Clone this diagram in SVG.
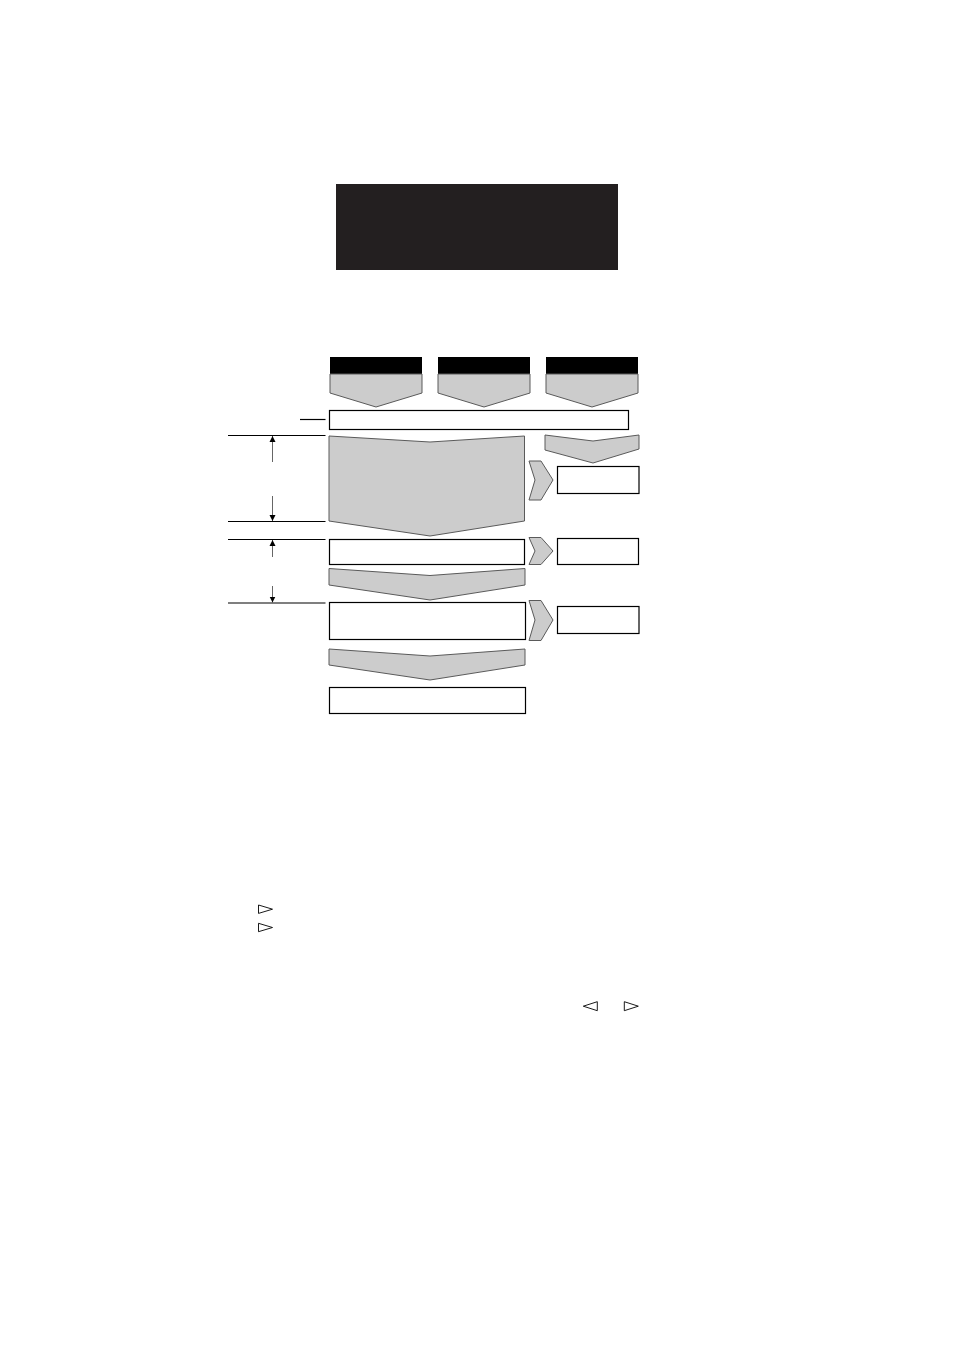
<svg xmlns="http://www.w3.org/2000/svg" width="954" height="1350" viewBox="0 0 954 1350">
<defs>
<style>
.g{fill:#cccccc;stroke:#5a5a5a;stroke-width:1;stroke-linejoin:miter}
.b{fill:#ffffff;stroke:#000000;stroke-width:1.2}
.h{fill:#000000}
.l{stroke:#000000;stroke-width:1.2;fill:none}
.a{stroke:#555555;stroke-width:0.9;fill:none}
.t{fill:#ffffff;stroke:#000000;stroke-width:0.9}
</style>
<marker id="ah" markerWidth="6" markerHeight="8" refX="6" refY="4" orient="auto" markerUnits="userSpaceOnUse">
<path d="M0,1 L6,4 L0,7 Z" fill="#000000"/>
</marker>
</defs>
<rect width="954" height="1350" fill="#ffffff"/>
<g id="title"><rect x="336" y="184" width="282" height="86" fill="#231f20"/></g>
<g id="head1"><rect class="h" x="330" y="357" width="92" height="17"/><path class="g" d="M330,374 L422,374 L422,393 L376,407 L330,393 Z"/></g>
<g id="head2"><rect class="h" x="438" y="357" width="92" height="17"/><path class="g" d="M438,374 L530,374 L530,393 L484,407 L438,393 Z"/></g>
<g id="head3"><rect class="h" x="546" y="357" width="92" height="17"/><path class="g" d="M546,374 L638,374 L638,393 L592,407 L546,393 Z"/></g>
<g id="bar"><rect class="b" x="329.5" y="410.5" width="299" height="19"/></g>
<g id="bigflow"><path class="g" d="M329,436 L430,442 L524.5,436 L524.5,521 L430,536 L329,521 Z"/></g>
<g id="rightflow"><path class="g" d="M545,435 L593,441 L639,435 L639,449 L593,463 L545,450 Z"/></g>
<g id="side1"><path class="g" d="M529,461 L541,461 L553,480 L541,500 L529,500 L535,480 Z"/></g>
<g id="rbox1"><rect class="b" x="557.5" y="466.5" width="81.5" height="27"/></g>
<g id="box2"><rect class="b" x="329.5" y="539.5" width="195" height="25"/></g>
<g id="side2"><path class="g" d="M529,537.5 L541,537.5 L553,551 L541,564.5 L529,564.5 L535,551 Z"/></g>
<g id="rbox2"><rect class="b" x="557.5" y="538.5" width="81" height="26"/></g>
<g id="flow3"><path class="g" d="M329,568.5 L430,575.5 L525,568.5 L525,585 L430,600 L329,585 Z"/></g>
<g id="box3"><rect class="b" x="329.5" y="602.5" width="196" height="37"/></g>
<g id="side3"><path class="g" d="M529,600.5 L541,600.5 L553,620 L541,640.5 L529,640.5 L535,620 Z"/></g>
<g id="rbox3"><rect class="b" x="557.5" y="606.5" width="81.5" height="27"/></g>
<g id="flow4"><path class="g" d="M329,649 L430,656 L525,649 L525,665 L430,680 L329,665 Z"/></g>
<g id="box4"><rect class="b" x="329.5" y="687.5" width="196" height="26"/></g>
<g id="connectors">
<line class="l" x1="300" y1="419.5" x2="325.5" y2="419.5"/>
<line class="l" x1="228" y1="435.5" x2="325.5" y2="435.5"/>
<line class="l" x1="228" y1="521.5" x2="325.5" y2="521.5"/>
<line class="l" x1="228" y1="539.5" x2="325.5" y2="539.5"/>
<line class="l" x1="228" y1="603" x2="325.5" y2="603"/>
<line class="a" x1="272.5" y1="462" x2="272.5" y2="436" marker-end="url(#ah)"/>
<line class="a" x1="272.5" y1="496" x2="272.5" y2="521" marker-end="url(#ah)"/>
<line class="a" x1="272.5" y1="557" x2="272.5" y2="540" marker-end="url(#ah)"/>
<line class="a" x1="272.5" y1="586" x2="272.5" y2="602.5" marker-end="url(#ah)"/>
</g>
<g id="symbols">
<path class="t" d="M258.5,905 L272.5,909.2 L258.5,913.4 Z"/>
<path class="t" d="M258.5,923.3 L272.5,927.5 L258.5,931.7 Z"/>
<path class="t" d="M597.3,1001.7 L583.3,1006.2 L597.3,1010.7 Z"/>
<path class="t" d="M624.3,1001.7 L638.3,1006.2 L624.3,1010.7 Z"/>
</g>
</svg>
